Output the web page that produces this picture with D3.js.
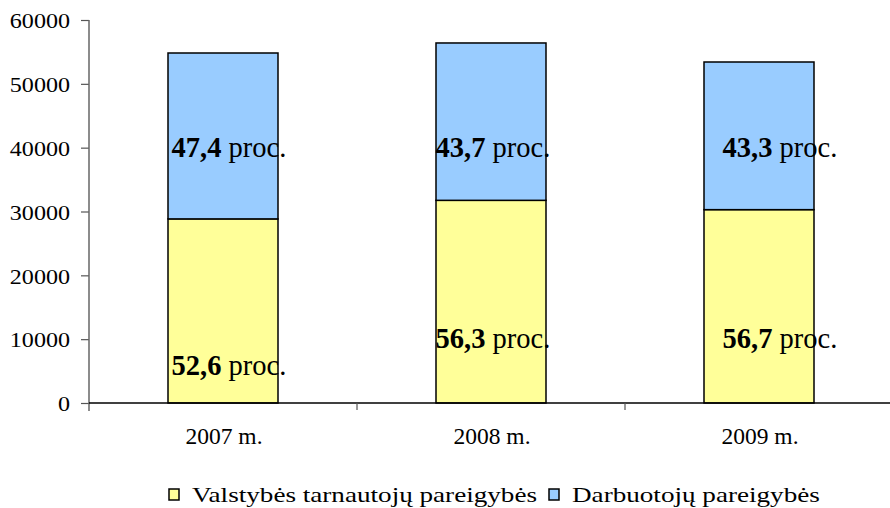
<!DOCTYPE html>
<html><head><meta charset="utf-8">
<script src="https://cdn.jsdelivr.net/npm/d3@7"></script>
<style>body{margin:0;background:#fff}svg{display:block}</style>
</head><body><svg id="c" width="890" height="508"></svg>
<script>
const categories = ["2007 m.", "2008 m.", "2009 m."];
const valstybes = [28840, 31750, 30290];
const darbuotoju = [25990, 24650, 23130];
const pctValstybes = ["52,6", "56,3", "56,7"];
const pctDarbuotoju = ["47,4", "43,7", "43,3"];
const yTicks = [0, 10000, 20000, 30000, 40000, 50000, 60000];
const seriesNames = ["Valstybės tarnautojų pareigybės", "Darbuotojų pareigybės"];
const colors = ["#FFFF99", "#99CCFF"];

// layout (label placement as in the original)
const FONT = "'Liberation Serif', 'Times New Roman', serif";
const labelDx = [6, 2, 21];
const bottomLabelAt = [4400, 8600, 8600];
const topLabelAt = 38500;

const svg = d3.select("#c");
const x = d3.scaleBand().domain(categories).range([89, 893]);
const y = d3.scaleLinear().domain([0, 60000]).range([403, 20]);
const barW = 110;

function stretch(sel, f) {
  sel.each(function () {
    const w = this.getComputedTextLength();
    d3.select(this).attr("textLength", w * f).attr("lengthAdjust", "spacingAndGlyphs");
  });
}

// y axis
const ya = svg.append("g").attr("transform", "translate(89,0)")
  .call(d3.axisLeft(y).tickValues(yTicks).tickSize(8).tickPadding(11).tickFormat(d3.format("d")));
ya.select(".domain").remove();
ya.selectAll(".tick line").attr("stroke", "#555").attr("stroke-width", 1.2);
ya.selectAll("text").style("font-family", FONT).attr("font-size", 21.5).attr("fill", "#000").attr("dy", "0.36em");
stretch(ya.selectAll("text"), 1.12);
svg.append("line").attr("x1", 89).attr("x2", 89).attr("y1", y(60000)).attr("y2", 411)
  .attr("stroke", "#666").attr("stroke-width", 1.5);

const series = [valstybes, darbuotoju];
categories.forEach((c, i) => {
  const cx = x(c) + x.bandwidth() / 2;
  let base = 0;
  series.forEach((s, k) => {
    svg.append("rect")
      .attr("x", cx - barW / 2).attr("width", barW)
      .attr("y", y(base + s[i])).attr("height", y(base) - y(base + s[i]))
      .attr("fill", colors[k]).attr("stroke", "#000").attr("stroke-width", 1.5);
    base += s[i];
  });
});

// x axis
svg.append("line").attr("x1", 89).attr("x2", 890).attr("y1", y(0)).attr("y2", y(0))
  .attr("stroke", "#000").attr("stroke-width", 1.5);
categories.forEach((c, i) => {
  if (i > 0) svg.append("line").attr("x1", x(c)).attr("x2", x(c)).attr("y1", y(0)).attr("y2", y(0) + 7)
    .attr("stroke", "#555").attr("stroke-width", 1.2);
  svg.append("text").attr("x", x(c) + x.bandwidth() / 2 + 1).attr("y", 444)
    .attr("text-anchor", "middle").style("font-family", FONT).attr("font-size", 23.5).text(c);
});

function pctLabel(i, pct, val) {
  const t = svg.append("text").attr("x", x(categories[i]) + x.bandwidth() / 2 + labelDx[i])
    .attr("y", y(val)).attr("text-anchor", "middle").style("font-family", FONT).attr("font-size", 28.5);
  t.append("tspan").attr("font-weight", "bold").text(pct);
  t.append("tspan").text(" proc.");
}
categories.forEach((c, i) => {
  pctLabel(i, pctDarbuotoju[i], topLabelAt);
  pctLabel(i, pctValstybes[i], bottomLabelAt[i]);
});

// legend
const leg = [{x: 169, tx: 192}, {x: 549, tx: 572}];
const legTexts = [];
seriesNames.forEach((n, k) => {
  svg.append("rect").attr("x", leg[k].x).attr("y", 489).attr("width", 10).attr("height", 11)
    .attr("fill", colors[k]).attr("stroke", "#000").attr("stroke-width", 1.5);
  legTexts.push(svg.append("text").attr("x", leg[k].tx).attr("y", 502)
    .style("font-family", FONT).attr("font-size", 21).text(n));
});
const lf = 345 / legTexts[0].node().getComputedTextLength();
legTexts.forEach(t => stretch(t, lf));
</script></body></html>
